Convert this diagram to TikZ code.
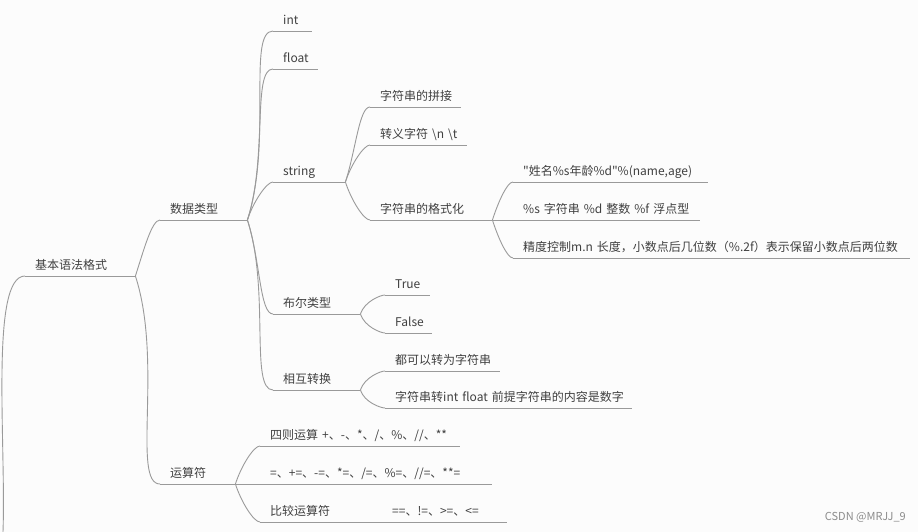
\documentclass[tikz,border=0pt]{standalone}
\usepackage{fontspec}
\newfontfamily\cjk{Noto Sans CJK SC}
\usepackage{xcolor}
\usepackage{tikz}
\definecolor{cLine}{HTML}{9A9A9A}
\definecolor{cText}{HTML}{404040}
\definecolor{cBack}{HTML}{FCFCFC}
\definecolor{cMark}{HTML}{8C8C8C}
\tikzset{
  ln/.style={draw=cLine,line width=0.9pt},
  topic/.style={anchor=south west,inner xsep=0pt,inner ysep=0pt,text width=#1,
                align=left,text depth=6.5pt,text=cText,
                font=\cjk\fontsize{12}{14}\selectfont,
                execute at begin node={\hspace*{10pt}}},
  bup/.style={ln,out=72,in=180,out looseness=1.1,in looseness=0.35},
  bdn/.style={ln,out=-72,in=180,out looseness=1.1,in looseness=0.35},
}

\begin{document}
\begin{tikzpicture}[x=1pt,y=-1pt]
    \fill[cBack] (0,0) rectangle (918,532);
    \useasboundingbox (0,0) rectangle (918,532);
    \coordinate (bot) at (3,532);
    \node[topic=110pt] (root) at (25,276) {基本语法格式};
    \node[topic=87pt] (dt) at (160,220) {数据类型};
    \node[topic=75pt] (op) at (160,484) {运算符};
    % data types
    \node[topic=39pt] (int) at (273,31) {int};
    \node[topic=45pt] (flt) at (273,69) {float};
    \node[topic=72pt] (str) at (273,182) {string};
    \node[topic=87pt] (bool) at (273,314) {布尔类型};
    \node[topic=87pt] (conv) at (273,390) {相互转换};
    \node[topic=91pt] (cat) at (370,107) {字符串的拼接};
    \node[topic=97pt] (esc) at (370,145) {转义字符~\textbackslash n~\textbackslash t};
    \node[topic=122pt] (fmt) at (370,220) {字符串的格式化};
    \node[topic=195pt] (f1) at (513,182) {"姓名\%s年龄\%d"\%(name,age)};
    \node[topic=187pt] (f2) at (513,220) {\%s~字符串~\%d~整数~\%f~浮点型};
    \node[topic=397pt] (f3) at (513,258) {精度控制m.n~长度，小数点后几位数（\%.2f）表示保留小数点后两位数};
    \node[topic=45pt] (true) at (385,295) {True};
    \node[topic=47pt] (false) at (385,333) {False};
    \node[topic=115pt] (c1) at (385,371) {都可以转为字符串};
    \node[topic=247pt] (c2) at (385,408) {字符串转int~float~前提字符串的内容是数字};
    % operators
    \node[topic=200pt] (o1) at (260,446) {四则运算~+、-、*、/、\%、//、**};
    \node[topic=232pt] (o2) at (260,484) {=、+=、-=、*=、/=、\%=、//=、**=};
    \node[topic=247pt] (o3) at (260,522) {比较运算符\hspace*{62pt}==、!=、>=、<=};
    \node[font=\cjk\fontsize{11}{13}\selectfont,text=cMark,anchor=east,inner sep=0pt]
         (mark) at (906,517) {CSDN @MRJJ\_9};
    \foreach \n in {root,dt,op,int,flt,str,bool,conv,cat,esc,fmt,f1,f2,f3,
                    true,false,c1,c2,o1,o2,o3}
      \draw[ln] (\n.south west) -- (\n.south east);
    \draw[bup,out=88,out looseness=0.9] (bot) to (root.south west);
    \draw[bup] (root.south east) to (dt.south west);
    \draw[bdn] (root.south east) to (op.south west);
    \draw[bup] (dt.south east) to (int.south west);
    \draw[bup] (dt.south east) to (flt.south west);
    \draw[bup] (dt.south east) to (str.south west);
    \draw[bdn] (dt.south east) to (bool.south west);
    \draw[bdn] (dt.south east) to (conv.south west);
    \draw[bup] (str.south east) to (cat.south west);
    \draw[bup] (str.south east) to (esc.south west);
    \draw[bdn] (str.south east) to (fmt.south west);
    \draw[bup] (fmt.south east) to (f1.south west);
    \draw[ln] (fmt.south east) -- (f2.south west);
    \draw[bdn] (fmt.south east) to (f3.south west);
    \draw[bup] (bool.south east) to (true.south west);
    \draw[bdn] (bool.south east) to (false.south west);
    \draw[bup] (conv.south east) to (c1.south west);
    \draw[bdn] (conv.south east) to (c2.south west);
    \draw[bup] (op.south east) to (o1.south west);
    \draw[ln] (op.south east) -- (o2.south west);
    \draw[bdn] (op.south east) to (o3.south west);
\end{tikzpicture}
\end{document}
